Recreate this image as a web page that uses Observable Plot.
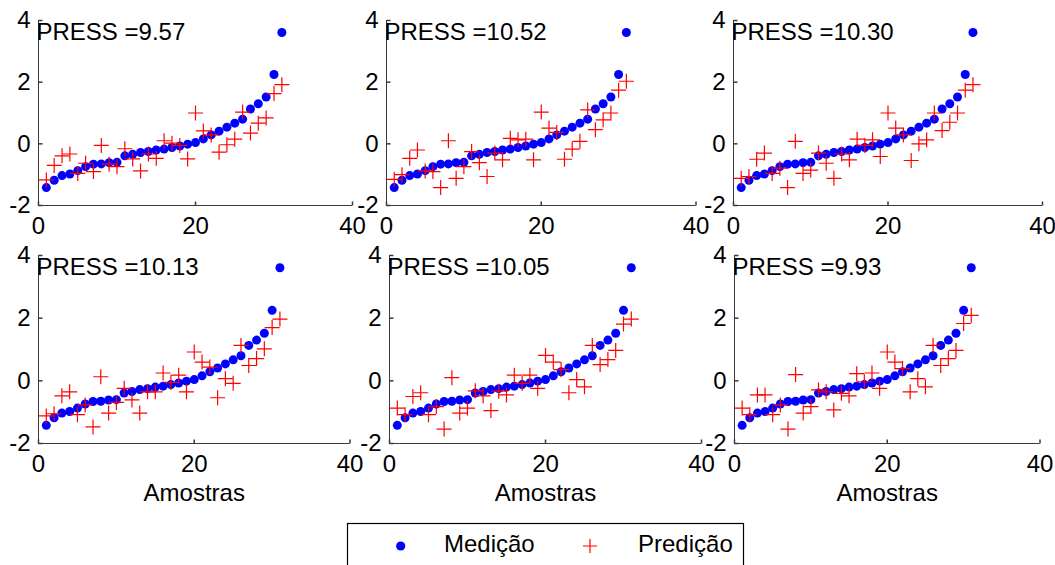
<!DOCTYPE html>
<html>
<head>
<meta charset="utf-8">
<script src="https://cdn.jsdelivr.net/npm/d3@7"></script>
<script src="https://cdn.jsdelivr.net/npm/@observablehq/plot@0.6"></script>
<style>
  html, body { margin: 0; padding: 0; background: #fff; overflow: hidden; }
  #fig { position: relative; width: 1055px; height: 565px; font-family: "Liberation Sans", Arial, sans-serif; }
  #fig svg { position: absolute; max-width: none; }
</style>
</head>
<body>
<div id="fig"></div>
<script>
// Sorted measured values (same for every model), samples 1..31
const medicao = [-1.42, -1.18, -1.03, -0.98, -0.87, -0.74, -0.66, -0.65, -0.61, -0.60,
                 -0.39, -0.34, -0.28, -0.25, -0.20, -0.17, -0.12, -0.07, -0.01, 0.04,
                 0.16, 0.29, 0.41, 0.54, 0.67, 0.80, 1.13, 1.30, 1.52, 2.25, 3.61];

// Predicted values for each of the six models
const predicao1 = [-1.17, -0.70, -0.39, -0.33, -0.96, -0.63, -0.90, -0.05, -0.66, -0.74,
                   -0.16, -0.49, -0.88, -0.33, -0.47, 0.10, 0.02, -0.05, -0.49, 1.00,
                   0.42, 0.29, -0.27, -0.03, 0.15, 1.03, 0.35, 0.67, 0.84, 1.63, 1.92];
const predicao2 = [-1.15, -1.00, -0.47, -0.20, -0.88, -0.90, -1.42, 0.10, -1.12, -0.74,
                   -0.25, -0.61, -1.06, -0.30, -0.52, 0.18, 0.13, 0.15, -0.52, 1.03,
                   0.51, 0.37, -0.50, -0.17, 0.08, 1.10, 0.46, 0.78, 1.00, 1.74, 2.03];
const predicao3 = [-1.12, -1.06, -0.50, -0.30, -0.96, -0.79, -1.42, 0.08, -0.96, -0.85,
                   -0.30, -0.63, -1.12, -0.33, -0.52, 0.15, -0.05, 0.13, -0.41, 1.00,
                   0.51, 0.29, -0.54, 0.00, 0.13, 1.00, 0.43, 0.70, 1.00, 1.74, 1.92];
const predicao4 = [-1.12, -1.05, -0.48, -0.35, -1.08, -0.77, -1.47, 0.13, -1.03, -0.69,
                   -0.24, -0.61, -1.03, -0.35, -0.35, 0.25, -0.05, 0.18, -0.35, 0.92,
                   0.60, 0.44, -0.54, 0.07, -0.08, 1.13, 0.49, 0.71, 1.02, 1.70, 1.97];
const predicao5 = [-0.87, -1.08, -0.50, -0.38, -1.08, -0.82, -1.54, 0.10, -1.03, -0.87,
                   -0.32, -0.48, -0.95, -0.33, -0.45, 0.18, -0.08, 0.18, -0.24, 0.81,
                   0.60, 0.36, -0.38, 0.04, -0.19, 1.13, 0.52, 0.68, 0.97, 1.81, 1.97];
const predicao6 = [-0.87, -1.08, -0.45, -0.45, -1.08, -0.77, -1.54, 0.20, -1.03, -0.82,
                   -0.29, -0.35, -0.93, -0.40, -0.48, 0.23, -0.03, 0.25, -0.24, 0.92,
                   0.60, 0.39, -0.35, 0.07, -0.19, 1.13, 0.49, 0.71, 0.97, 1.83, 2.09];

const press = [9.57, 10.52, 10.30, 10.13, 10.05, 9.93];
const xTicks = [0, 20, 40];
const yTicks = [-2, 0, 2, 4];
const xLabel = "Amostras";
const legendLabels = ["Medição", "Predição"];

const predicoes = [predicao1, predicao2, predicao3, predicao4, predicao5, predicao6];

// Pixel frame of each axes box (left, right, top, bottom)
const frames = [
  {x0: 37.5, x1: 351.5, y0: 20, y1: 205},
  {x0: 385.5, x1: 695, y0: 20, y1: 205},
  {x0: 733, x1: 1042, y0: 20, y1: 205},
  {x0: 37.5, x1: 349, y0: 255, y1: 443},
  {x0: 389, x1: 701, y0: 255, y1: 443},
  {x0: 733.5, x1: 1039, y0: 255, y1: 443}
];

// thin "+" marker
const plusThin = {
  draw(ctx, size) {
    const r = Math.sqrt(size / Math.PI);
    ctx.moveTo(-r, 0); ctx.lineTo(r, 0);
    ctx.moveTo(0, -r); ctx.lineTo(0, r);
  }
};
// inward tick marks for the bottom and left axes
const tickUp = { draw(ctx) { ctx.moveTo(0, 0); ctx.lineTo(0, -4); } };
const tickRight = { draw(ctx) { ctx.moveTo(0, 0); ctx.lineTo(4, 0); } };

const axisColor = "#3a3a3a";
const fontFamily = '"Liberation Sans", Arial, sans-serif';
const tickFormat = d => String(d);
const fig = document.getElementById("fig");
const mL = 60, mR = 30, mT = 15, mB = 75;

frames.forEach((f, k) => {
  const bottomRow = k >= 3;
  const marks = [
    Plot.axisX({ticks: xTicks, tickFormat, tickSize: 0, tickPadding: 11, fontSize: 24, label: null}),
    Plot.axisY({ticks: yTicks, tickFormat, tickSize: 0, tickPadding: 8, fontSize: 24, label: null}),
    Plot.ruleY([-2], {stroke: axisColor}),
    Plot.ruleX([0], {stroke: axisColor}),
    Plot.dot(xTicks, {x: d => d, y: -2, symbol: tickUp, stroke: axisColor, fill: "none", r: 4}),
    Plot.dot(yTicks, {x: 0, y: d => d, symbol: tickRight, stroke: axisColor, fill: "none", r: 4}),
    Plot.dot(medicao, {x: (d, i) => i + 1, y: d => d, r: 4.5, fill: "#0000ff", stroke: "none"}),
    Plot.dot(predicoes[k], {x: (d, i) => i + 1, y: d => d, symbol: plusThin, r: 7.5,
                            stroke: "#ff0000", strokeWidth: 1.2, fill: "none"}),
    Plot.text([press[k]], {x: 0, y: 3.62, text: d => `PRESS =${d.toFixed(2)}`,
                           textAnchor: "start", dx: -2, fontSize: 24, fill: "#000"})
  ];
  if (bottomRow) {
    marks.push(Plot.text([xLabel], {frameAnchor: "bottom", dy: 40, lineAnchor: "top",
                                    fontSize: 24, fill: "#000"}));
  }
  const svg = Plot.plot({
    width: f.x1 - f.x0 + mL + mR,
    height: f.y1 - f.y0 + mT + mB,
    marginLeft: mL, marginRight: mR, marginTop: mT, marginBottom: mB,
    x: {domain: [0, 40]},
    y: {domain: [-2, 4]},
    style: {background: "none", overflow: "visible", fontFamily, color: "#000"},
    marks
  });
  svg.style.left = (f.x0 - mL) + "px";
  svg.style.top = (f.y0 - mT) + "px";
  fig.appendChild(svg);
});

// legend box below the panels
const ns = "http://www.w3.org/2000/svg";
const leg = document.createElementNS(ns, "svg");
leg.setAttribute("width", 1055);
leg.setAttribute("height", 565);
leg.style.left = "0px";
leg.style.top = "0px";
leg.innerHTML = `
  <rect x="347.5" y="523.5" width="396" height="70" fill="#fff" stroke="#000" stroke-width="1.2"/>
  <circle cx="400.7" cy="546" r="4.6" fill="#0000ff"/>
  <text x="444" y="552" font-size="24" font-family='${fontFamily}' fill="#000">${legendLabels[0]}</text>
  <path d="M583,546H597M590,539V553" stroke="#ff0000" stroke-width="1.2" fill="none"/>
  <text x="638" y="552" font-size="24" font-family='${fontFamily}' fill="#000">${legendLabels[1]}</text>
`;
fig.appendChild(leg);
</script>
</body>
</html>
